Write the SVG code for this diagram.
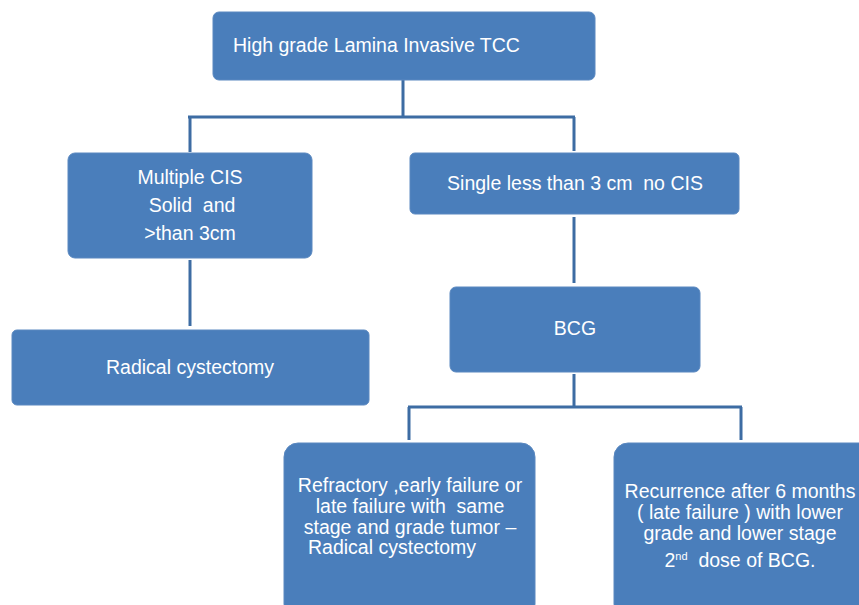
<svg xmlns="http://www.w3.org/2000/svg" width="859" height="605" viewBox="0 0 859 605">
<style>
.box{fill:#4a7ebb;stroke:#5a88c0;stroke-width:1}
.t{font-family:"Liberation Sans",Arial,sans-serif;font-size:19.5px;fill:#ffffff;text-anchor:middle}
.c{fill:none;stroke:#3d6ca3;stroke-width:3}
</style>
<rect width="859" height="605" fill="#ffffff"/>
<g id="connectors">
<path class="c" d="M403 80 V117 M188 117 H575 M190 117 V152 M574 117 V151"/>
<path class="c" d="M190 260 V326"/>
<path class="c" d="M574 217 V283"/>
<path class="c" d="M574 374 V407 M408 407 H742 M409 407 V440 M741 407 V440"/>
</g>
<g id="n1"><rect class="box" x="213" y="12" width="382" height="68" rx="6"/><text class="t" x="233" y="52" style="text-anchor:start">High grade Lamina Invasive TCC</text></g>
<g id="n2"><rect class="box" x="68" y="153" width="244" height="105" rx="7"/>
<text class="t" x="190" y="184">Multiple CIS</text><text class="t" x="192" y="212" xml:space="preserve">Solid  and</text><text class="t" x="190" y="240">&gt;than 3cm</text></g>
<g id="n3"><rect class="box" x="410" y="153" width="329" height="61" rx="5"/><text class="t" x="575" y="190" xml:space="preserve">Single less than 3 cm  no CIS</text></g>
<g id="n4"><rect class="box" x="12" y="330" width="357" height="75" rx="5"/><text class="t" x="190" y="374">Radical cystectomy</text></g>
<g id="n5"><rect class="box" x="450" y="287" width="250" height="85" rx="6"/><text class="t" x="575" y="335">BCG</text></g>
<g id="n6"><rect class="box" x="284" y="443" width="251" height="175" rx="14"/>
<text class="t" x="410" y="492">Refractory ,early failure or</text>
<text class="t" x="410" y="513" xml:space="preserve">late failure with  same</text>
<text class="t" x="410" y="534">stage and grade tumor –</text>
<text class="t" x="392" y="554">Radical cystectomy</text></g>
<g id="n7"><rect class="box" x="614" y="443" width="260" height="175" rx="14"/>
<text class="t" x="740" y="498">Recurrence after 6 months</text>
<text class="t" x="740" y="519">( late failure ) with lower</text>
<text class="t" x="740" y="540">grade and lower stage</text>
<text class="t" x="740" y="567" xml:space="preserve">2<tspan font-size="11" dy="-7">nd</tspan><tspan dy="7">  dose of BCG.</tspan></text></g>
</svg>
